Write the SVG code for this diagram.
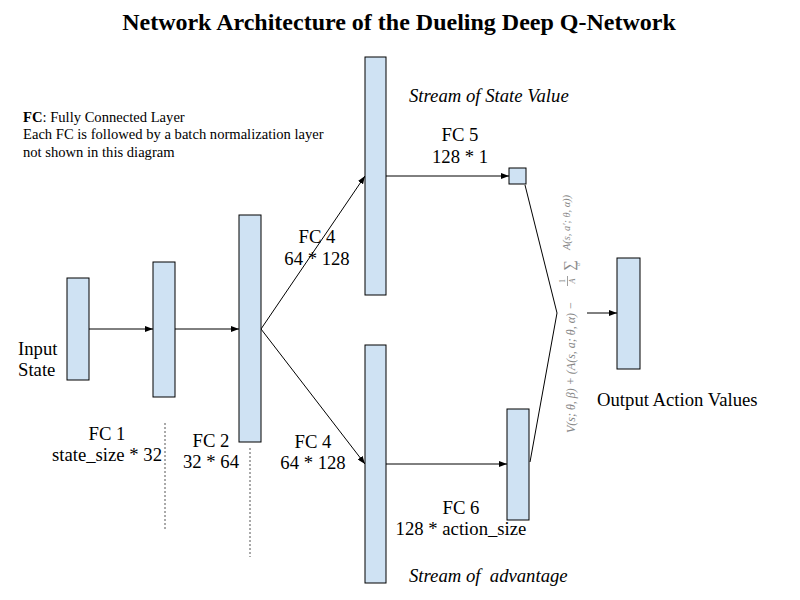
<svg xmlns="http://www.w3.org/2000/svg" width="800" height="600" viewBox="0 0 800 600">
<style>
  .layer { fill: #cfe2f3; stroke: #000; stroke-width: 1; }
  .conn { stroke: #000; stroke-width: 1; fill: none; }
  .t { font-family: "Liberation Serif", "Times New Roman", serif; font-size: 18.7px; fill: #000; }
  .c { text-anchor: middle; }
  .it { font-style: italic; }
  .note { font-family: "Liberation Serif", "Times New Roman", serif; font-size: 14.6px; fill: #000; }
  .math { font-family: "Liberation Serif", "Times New Roman", serif; font-style: italic; fill: #878787; }
  .dot { stroke: #555; stroke-width: 1; stroke-dasharray: 2 2; }
</style>
<defs>
  <marker id="arr" viewBox="0 0 8 6" refX="8" refY="3" markerWidth="8" markerHeight="6" markerUnits="userSpaceOnUse" orient="auto">
    <path d="M0,0 L8,3 L0,6 z" fill="#000"/>
  </marker>
</defs>
<rect width="800" height="600" fill="#fff"/>

<text id="title" x="399" y="30" class="t c" style="font-size:24px;font-weight:bold">Network Architecture of the Dueling Deep Q-Network</text>

<g id="legend">
  <text x="23" y="122" class="note"><tspan font-weight="bold">FC</tspan>: Fully Connected Layer</text>
  <text x="23" y="139" class="note">Each FC is followed by a batch normalization layer</text>
  <text x="23" y="157" class="note">not shown in this diagram</text>
</g>

<g id="connectors">
  <line class="conn" x1="89" y1="329" x2="153" y2="329" marker-end="url(#arr)"/>
  <line class="conn" x1="175" y1="329" x2="239" y2="329" marker-end="url(#arr)"/>
  <line class="conn" x1="261" y1="329" x2="365" y2="176" marker-end="url(#arr)"/>
  <line class="conn" x1="261" y1="329" x2="365" y2="464" marker-end="url(#arr)"/>
  <line class="conn" x1="386" y1="176" x2="509" y2="176" marker-end="url(#arr)"/>
  <line class="conn" x1="386" y1="464" x2="507" y2="464" marker-end="url(#arr)"/>
  <polyline class="conn" points="525,185 557,313 530,462"/>
  <line class="conn" x1="587" y1="313" x2="617" y2="313" marker-end="url(#arr)"/>
  <line class="dot" x1="165" y1="423" x2="165" y2="530"/>
  <line class="dot" x1="250" y1="448" x2="250" y2="557"/>
</g>

<g id="input">
  <rect class="layer" x="67" y="278" width="22" height="102"/>
  <text x="18" y="355" class="t">Input</text>
  <text x="18" y="376" class="t">State</text>
</g>

<g id="fc1">
  <rect class="layer" x="153" y="262" width="22" height="135"/>
  <text x="107" y="440" class="t c">FC 1</text>
  <text x="107" y="461" class="t c">state_size * 32</text>
</g>

<g id="fc2">
  <rect class="layer" x="239" y="215" width="22" height="227"/>
  <text x="211" y="447" class="t c">FC 2</text>
  <text x="211" y="468" class="t c">32 * 64</text>
</g>

<g id="fc4-value">
  <rect class="layer" x="365" y="57" width="21" height="238"/>
  <text x="317" y="243" class="t c">FC 4</text>
  <text x="317" y="265" class="t c">64 * 128</text>
  <text x="409" y="102" class="t it">Stream of State Value</text>
</g>

<g id="fc4-advantage">
  <rect class="layer" x="365" y="345" width="21" height="238"/>
  <text x="313" y="448" class="t c">FC 4</text>
  <text x="313" y="469" class="t c">64 * 128</text>
  <text x="409" y="582" class="t it" xml:space="preserve">Stream of  advantage</text>
</g>

<g id="fc5">
  <rect class="layer" x="509" y="168" width="17" height="16"/>
  <text x="460" y="141" class="t c">FC 5</text>
  <text x="460" y="163" class="t c">128 * 1</text>
</g>

<g id="fc6">
  <rect class="layer" x="507" y="409" width="22" height="111"/>
  <text x="461" y="514" class="t c">FC 6</text>
  <text x="461" y="535" class="t c">128 * action_size</text>
</g>

<g id="formula" transform="translate(575,310) rotate(-90)">
  <text x="-123" y="0" class="math" font-size="13" textLength="131" lengthAdjust="spacingAndGlyphs">V(s; θ, β) + (A(s, a; θ, α) −</text>
  <text x="29" y="-10" class="math" font-size="8" text-anchor="middle" style="font-style:normal">1</text>
  <line x1="24" y1="-7.5" x2="34" y2="-7.5" stroke="#878787" stroke-width="0.8"/>
  <text x="29" y="-0.5" class="math" font-size="8" text-anchor="middle">A</text>
  <text x="39" y="-1.5" class="math" font-size="15" style="font-style:normal">∑</text>
  <text x="44" y="5" class="math" font-size="6">a′</text>
  <text x="60" y="-5" class="math" font-size="9.5" textLength="55" lengthAdjust="spacingAndGlyphs">A(s, a′; θ, α))</text>
</g>

<g id="output">
  <rect class="layer" x="617" y="258" width="23" height="111"/>
  <text x="597" y="406" class="t">Output Action Values</text>
</g>
</svg>
